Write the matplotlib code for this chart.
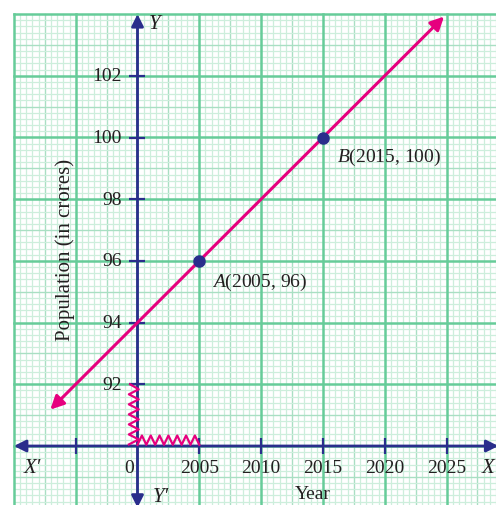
import numpy as np
import matplotlib
matplotlib.use('Agg')
import matplotlib.pyplot as plt

plt.rcParams['font.family'] = 'Liberation Serif'
plt.rcParams['mathtext.fontset'] = 'custom'
plt.rcParams['mathtext.rm'] = 'Liberation Serif'
plt.rcParams['mathtext.it'] = 'Liberation Serif:italic'

# data
years = [2005, 2015]
population = [96, 100]
x_ticks = [1995, 2005, 2010, 2015, 2020, 2025]
x_tick_labels = ['', '2005', '2010', '2015', '2020', '2025']
y_ticks = [92, 94, 96, 98, 100, 102]

origin_x, origin_y = 2000, 90
slope = (population[1] - population[0]) / (years[1] - years[0])
line_ends = [1992.95, 2024.8]

navy = '#2a2e8c'
magenta = '#e6007e'
major_c = '#66cc99'
mid_c = '#a9dfc3'
minor_c = '#cdeedc'
txt_c = '#231f20'

fig = plt.figure(figsize=(4.96, 5.06), dpi=100)
ax = fig.add_axes([0, 0, 1, 1])
x0 = origin_x - 137.5 / 12.36
x_right = x0 + 496 / 12.36
ax.set_xlim(x0, x_right)
y1 = origin_y + 447 / 30.85
ax.set_ylim(y1 - 506 / 30.85, y1)
ax.axis('off')

# graph paper
gx0, gx1 = 1990, 2032
gy0, gy1 = 86, 104
for i, xv in enumerate(np.arange(gx0, gx1 + 0.01, 0.5)):
    k = i % 10
    c, lw = (major_c, 1.8) if k == 0 else ((mid_c, 1.0) if k == 5 else (minor_c, 0.9))
    ax.plot([xv, xv], [gy0, gy1], color=c, lw=lw, zorder=1 if k else 2)
for i, yv in enumerate(np.arange(gy0, gy1 + 0.01, 0.2)):
    k = i % 10
    c, lw = (major_c, 1.8) if k == 0 else ((mid_c, 1.0) if k == 5 else (minor_c, 0.9))
    ax.plot([gx0, gx1], [yv, yv], color=c, lw=lw, zorder=1 if k else 2)

# axes with arrows
arrow = dict(arrowstyle='<|-|>', color=navy, lw=2, mutation_scale=18, shrinkA=0, shrinkB=0)
ax.annotate('', xy=(2029.2, origin_y), xytext=(1990, origin_y), arrowprops=arrow,
            annotation_clip=False, zorder=4)
ax.annotate('', xy=(origin_x, 104), xytext=(origin_x, 88.0), arrowprops=arrow,
            annotation_clip=False, zorder=4)

# tick marks
ax.plot(x_ticks, [origin_y] * len(x_ticks), ls='none', marker='|', ms=11, mew=1.6, color=navy, zorder=5)
ax.plot([origin_x] * len(y_ticks), y_ticks, ls='none', marker='_', ms=11, mew=1.6, color=navy, zorder=5)

for xv, lab in zip(x_ticks, x_tick_labels):
    ax.text(xv, 89.3, lab, ha='center', va='center', fontsize=14, color=txt_c, zorder=6)
for yv in y_ticks:
    ax.text(1998.75, yv, str(yv), ha='right', va='center', fontsize=14, color=txt_c, zorder=6)
ax.text(1999.3, 89.3, '0', ha='center', va='center', fontsize=14, color=txt_c, zorder=6)

# zigzag break marks
n_v = 13
zy = np.linspace(origin_y + 0.05, 92, n_v)
zx = origin_x - 0.7 + 0.8 * (np.arange(n_v) % 2)
zx[-1] = origin_x - 0.6
ax.plot(zx, zy, color=magenta, lw=1.6, zorder=5)
n_h = 15
hx = np.linspace(origin_x, 2005, n_h)
hy = origin_y + 0.04 + 0.3 * (np.arange(n_h) % 2)
ax.plot(hx, hy, color=magenta, lw=1.6, zorder=5)

# population line
ly = [population[0] + slope * (xv - years[0]) for xv in line_ends]
ax.annotate('', xy=(line_ends[1], ly[1]), xytext=(line_ends[0], ly[0]),
            arrowprops=dict(arrowstyle='<|-|>', color=magenta, lw=2.2, mutation_scale=20, shrinkA=0, shrinkB=0),
            annotation_clip=False, zorder=6)
ax.plot(years, population, 'o', color=navy, ms=8, zorder=7)
ax.text(2006.05, 95.35, r'$\mathit{A}$(2005, 96)', ha='left', va='center', fontsize=14, color=txt_c, zorder=8)
ax.text(2016.15, 99.4, r'$\mathit{B}$(2015, 100)', ha='left', va='center', fontsize=14, color=txt_c, zorder=8)

# axis names
ax.text(2001.4, 103.7, 'Y', style='italic', ha='center', va='center', fontsize=15, color=txt_c, zorder=8)
ax.text(2001.9, 88.35, 'Y′', style='italic', ha='center', va='center', fontsize=15, color=txt_c, zorder=8)
ax.text(1991.5, 89.3, 'X′', style='italic', ha='center', va='center', fontsize=15, color=txt_c, zorder=8)
ax.text(x_right - 0.1, 89.3, 'X', style='italic', ha='right', va='center', fontsize=15, color=txt_c, zorder=8)
ax.text(2014.2, 88.45, 'Year', ha='center', va='center', fontsize=14, color=txt_c, zorder=8)
ax.text(1994.15, 96.4, 'Population (in crores)', rotation=90, ha='center', va='center', fontsize=15, color=txt_c, zorder=8)

fig.savefig('out.png', dpi=100)
